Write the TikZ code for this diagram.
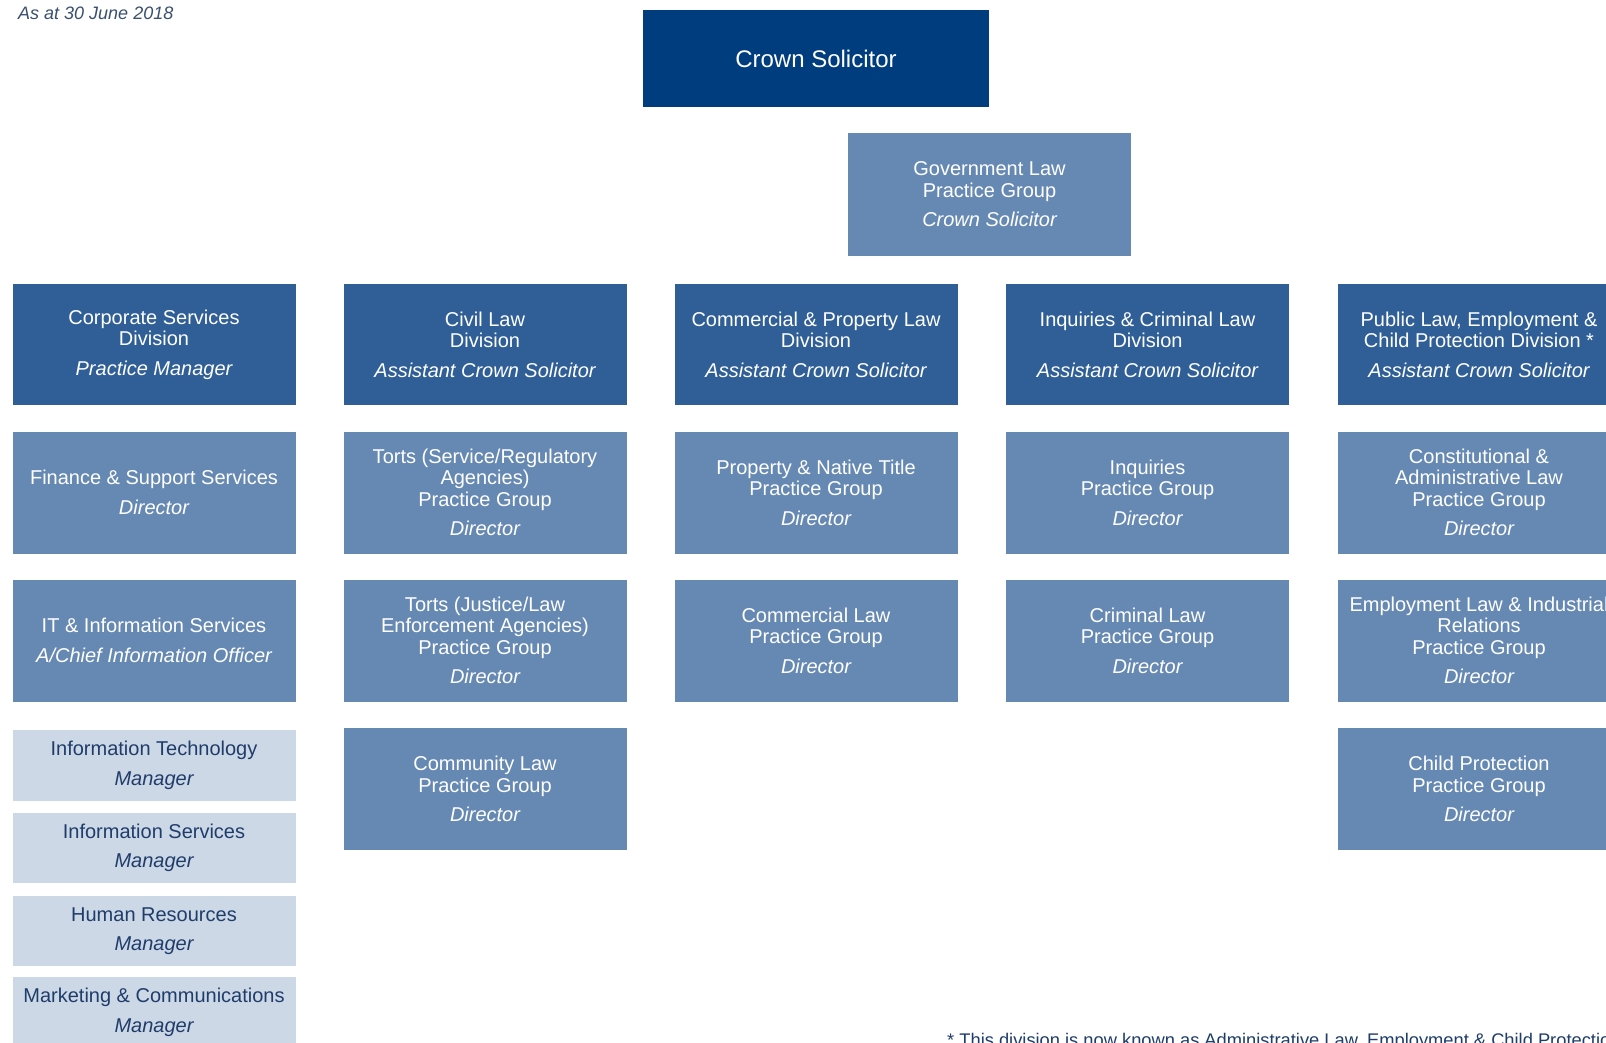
\documentclass[tikz,border=0pt]{standalone}
\usepackage{fontspec}
\setmainfont{Liberation Sans}
\definecolor{crownc}{HTML}{003D7E}
\definecolor{divc}{HTML}{2F5F96}
\definecolor{pgc}{HTML}{6689B3}
\definecolor{lightc}{HTML}{CDD8E6}
\definecolor{litetext}{HTML}{1F3D6B}
\definecolor{datec}{HTML}{3A5070}
\tikzset{
  box/.style={rectangle, inner sep=0pt, align=center, text=white, font=\fontsize{20}{21.5}\selectfont},
  crownbox/.style={box, fill=crownc, minimum width=346pt, minimum height=97pt, font=\fontsize{24}{26}\selectfont},
  divbox/.style={box, fill=divc, minimum width=283pt, minimum height=121pt},
  pgbox/.style={box, fill=pgc, minimum width=283pt, minimum height=122pt},
  litebox/.style={box, fill=lightc, text=litetext, minimum width=283pt, minimum height=71pt},
  note/.style={anchor=base west, inner sep=0pt, text=datec, font=\fontsize{18}{20}\selectfont}
}
\begin{document}
\begin{tikzpicture}[x=1pt,y=-1pt]
\useasboundingbox (0,0) rectangle (1606,1043);
\clip (0,0) rectangle (1606,1043);
\fill[white] (0,0) rectangle (1606,1043);

\node[note, font=\fontsize{18}{20}\selectfont\itshape] (date) at (18,20) {As at 30 June 2018};

\node[crownbox] (crown) at (816,58.5) {Crown Solicitor};
\node[pgbox, minimum height=123pt] (govlaw) at (989.5,194.5) {Government Law\\Practice Group\\[8pt]\itshape Crown Solicitor};

% row 1 divisions
\node[divbox] (csd) at (154,344.5) {Corporate Services\\Division\\[8pt]\itshape Practice Manager};
\node[divbox] (cld) at (485,344.5) {Civil Law\\Division\\[8pt]\itshape Assistant Crown Solicitor};
\node[divbox] (cpd) at (816,344.5) {Commercial \& Property Law\\Division\\[8pt]\itshape Assistant Crown Solicitor};
\node[divbox] (icd) at (1147.5,344.5) {Inquiries \& Criminal Law\\Division\\[8pt]\itshape Assistant Crown Solicitor};
\node[divbox] (pld) at (1479,344.5) {Public Law, Employment \&\\Child Protection Division *\\[8pt]\itshape Assistant Crown Solicitor};

% row 2
\node[pgbox] (fss) at (154,492.5) {Finance \& Support Services\\[8pt]\itshape Director};
\node[pgbox] (tsr) at (485,492.5) {Torts (Service/Regulatory\\Agencies)\\Practice Group\\[8pt]\itshape Director};
\node[pgbox] (pnt) at (816,492.5) {Property \& Native Title\\Practice Group\\[8pt]\itshape Director};
\node[pgbox] (inq) at (1147.5,492.5) {Inquiries\\Practice Group\\[8pt]\itshape Director};
\node[pgbox] (cal) at (1479,492.5) {Constitutional \&\\Administrative Law\\Practice Group\\[8pt]\itshape Director};

% row 3
\node[pgbox] (itis) at (154,640.5) {IT \& Information Services\\[8pt]\itshape A/Chief Information Officer};
\node[pgbox] (tjl) at (485,640.5) {Torts (Justice/Law\\Enforcement Agencies)\\Practice Group\\[8pt]\itshape Director};
\node[pgbox] (coml) at (816,640.5) {Commercial Law\\Practice Group\\[8pt]\itshape Director};
\node[pgbox] (crim) at (1147.5,640.5) {Criminal Law\\Practice Group\\[8pt]\itshape Director};
\node[pgbox] (elir) at (1479,640.5) {Employment Law \& Industrial\\Relations\\Practice Group\\[8pt]\itshape Director};

% row 4
\node[pgbox] (cmty) at (485,789) {Community Law\\Practice Group\\[8pt]\itshape Director};
\node[pgbox] (chp) at (1479,789) {Child Protection\\Practice Group\\[8pt]\itshape Director};

% light boxes
\node[litebox] (itm) at (154,765.5) {Information Technology\\[8pt]\itshape Manager};
\node[litebox, minimum height=70pt] (ism) at (154,848) {Information Services\\[8pt]\itshape Manager};
\node[litebox, minimum height=70pt] (hrm) at (154,931) {Human Resources\\[8pt]\itshape Manager};
\node[litebox, minimum height=71pt] (mcm) at (154,1012.5) {Marketing \& Communications\\[8pt]\itshape Manager};

\node[note, text=litetext, font=\fontsize{18.3}{20}\selectfont] (foot) at (947,1046) {* This division is now known as Administrative Law, Employment \& Child Protection Division};
\end{tikzpicture}
\end{document}
